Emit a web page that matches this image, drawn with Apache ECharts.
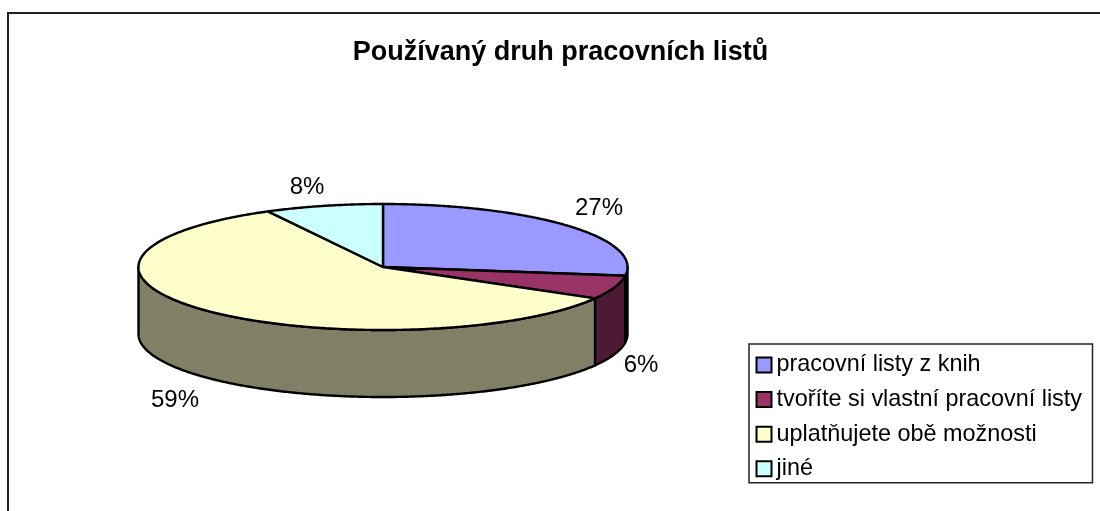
<!DOCTYPE html>
<html>
<head>
<meta charset="utf-8">
<style>
  html, body { margin: 0; padding: 0; background: #fff; }
  #chart { width: 1100px; height: 511px; }
</style>
<script src="https://cdn.jsdelivr.net/npm/echarts@6/dist/echarts.min.js"></script>
</head>
<body>
<div id="chart"></div>
<script>
const titleText = 'Používaný druh pracovních listů'
const categories = ['pracovní listy z knih', 'tvoříte si vlastní pracovní listy', 'uplatňujete obě možnosti', 'jiné']
// labels round these to 27, 6, 59, 8; the decimals are read from the slice edges
const values = [27.2, 6.1, 58.9, 7.8]

const topColors = ['#9999FF', '#993366', '#FFFFCC', '#CCFFFF']
const sideColors = ['#4D4D80', '#4D1A33', '#808066', '#668080']
const labelSpots = [[599, 208], [641, 365], [175, 400], [307, 187]]

// the tilted pie
const cx = 383
const cy = 267
const rx = 244.5
const ry = 63
const depth = 67
const FONT = '"Liberation Sans", Arial, sans-serif'

const total = values.reduce((a, b) => a + b, 0)

// angle is clockwise from 12 o'clock, in degrees
function rimPoint(deg, dy) {
  const r = (deg * Math.PI) / 180
  return [cx + rx * Math.sin(r), cy - ry * Math.cos(r) + dy]
}

function arcPoints(from, to, dy) {
  const pts = []
  const steps = Math.max(2, Math.ceil(Math.abs(to - from) * 2))
  for (let i = 0; i <= steps; i++) {
    pts.push(rimPoint(from + ((to - from) * i) / steps, dy))
  }
  return pts
}

function makeRenderItem(index) {
  return function (params, api) {
    const value = api.value(0)
    const before = values.slice(0, index).reduce((a, b) => a + b, 0)
    const start = (before / total) * 360
    const end = start + (value / total) * 360
    const children = []

    // only the part of the rim between 3 and 9 o'clock shows a wall
    const lo = Math.max(start, 90)
    const hi = Math.min(end, 270)
    if (hi > lo) {
      children.push({
        type: 'polygon',
        shape: { points: arcPoints(lo, hi, 0).concat(arcPoints(hi, lo, depth)) },
        style: { fill: sideColors[index], stroke: '#000', lineWidth: 2.4, lineJoin: 'round' },
      })
    }

    children.push({
      type: 'polygon',
      shape: { points: [[cx, cy]].concat(arcPoints(start, end, 0)) },
      style: { fill: topColors[index], stroke: '#000', lineWidth: 2.4, lineJoin: 'round' },
    })

    children.push({
      type: 'text',
      x: labelSpots[index][0],
      y: labelSpots[index][1],
      style: {
        text: Math.round(value) + '%',
        fill: '#000',
        font: '24px ' + FONT,
        textAlign: 'center',
        textVerticalAlign: 'middle',
      },
    })

    return { type: 'group', children }
  }
}

const chart = echarts.init(document.getElementById('chart'))

chart.setOption({
  animation: false,
  backgroundColor: '#fff',
  title: {
    text: titleText,
    left: 555.5,
    top: 34,
    textAlign: 'center',
    textStyle: { fontFamily: FONT, fontSize: 27, fontWeight: 'bold', color: '#000' },
  },
  legend: {
    orient: 'vertical',
    left: 749,
    top: 344,
    padding: [8.5, 10.5, 1.5, 6.5],
    itemGap: 9.6,
    itemWidth: 15,
    itemHeight: 15,
    selectedMode: false,
    borderColor: '#222',
    borderWidth: 1.5,
    backgroundColor: '#fff',
    textStyle: { fontFamily: FONT, fontSize: 23.4, color: '#000', padding: [0, 0, 0, 0], lineHeight: 25 },
    data: categories.map((name, i) => ({
      name,
      icon: 'rect',
      itemStyle: { color: topColors[i], borderColor: '#000', borderWidth: 2 },
    })),
  },
  graphic: [
    {
      type: 'polyline',
      shape: { points: [[1100, 13], [8, 13], [8, 511]] },
      style: { fill: null, stroke: '#222', lineWidth: 2 },
      silent: true,
    },
  ],
  series: categories.map((name, i) => ({
    type: 'custom',
    name,
    coordinateSystem: 'none',
    itemStyle: { color: topColors[i] },
    data: [[values[i]]],
    silent: true,
    renderItem: makeRenderItem(i),
  })),
})
</script>
</body>
</html>
